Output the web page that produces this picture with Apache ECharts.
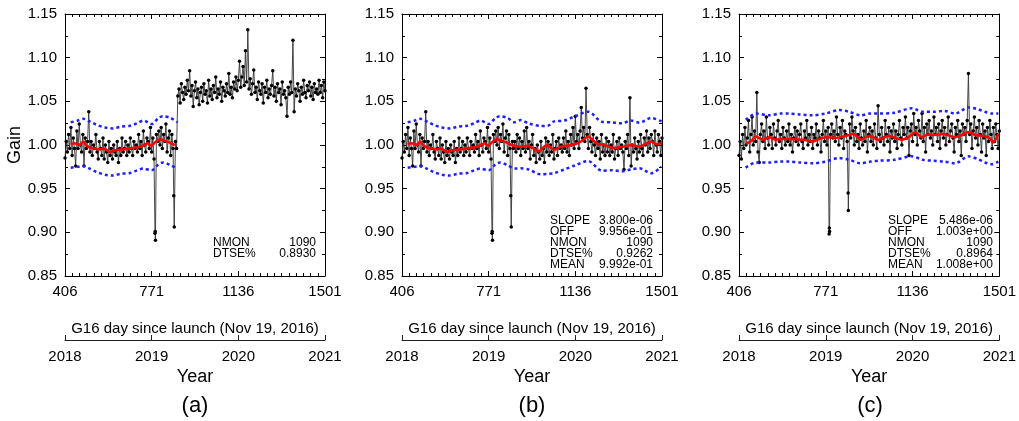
<!DOCTYPE html>
<html>
<head>
<meta charset="utf-8">
<script src="https://cdn.jsdelivr.net/npm/echarts@6/dist/echarts.min.js"></script>
<style>
  html, body { margin: 0; padding: 0; background: #fff; }
  #chart { width: 1019px; height: 421px; }
</style>
</head>
<body>
<div id="chart"></div>
<script>
// gain series on a 5-day grid starting at day 406
var DAY_START = 406;
var DAY_STEP = 5;
var dayTicks = [406, 771, 1136, 1501];
var panelNames = ['(a)', '(b)', '(c)'];

// days 406-876, identical in (a) and (b)
var gainEarly = [
  0.985, 1.004, 0.992, 1.012, 0.996, 1.020, 0.988, 1.008, 0.996, 0.976,
  1.016, 0.996, 1.024, 1.000, 0.992, 1.012, 0.976, 1.008, 0.996, 1.004,
  1.038, 0.992, 1.004, 0.988, 1.000, 0.996, 1.012, 0.992, 0.984, 1.004,
  0.996, 0.988, 1.008, 0.984, 1.000, 0.992, 0.980, 1.004, 0.988, 0.996,
  0.984, 1.000, 0.992, 0.988, 1.004, 0.980, 0.996, 0.988, 1.008, 0.992,
  0.996, 1.004, 0.988, 1.000, 0.992, 1.008, 0.996, 0.988, 1.004, 0.996,
  1.000, 0.992, 1.012, 0.996, 1.004, 0.988, 1.016, 1.000, 0.992, 1.008,
  1.004, 0.996, 1.020, 0.992, 1.008, 0.984, 0.901, 1.012, 1.004, 1.016,
  1.000, 1.020, 0.996, 1.012, 1.004, 1.024, 0.992, 1.008, 1.016, 0.988,
  1.012, 0.996, 0.906, 1.004, 0.996
];
// days 881-1501
var gainLateA = [
  1.056, 1.064, 1.048, 1.070, 1.060, 1.052, 1.066, 1.058, 1.074, 1.062,
  1.085, 1.056, 1.068, 1.044, 1.062, 1.072, 1.054, 1.064, 1.046, 1.060,
  1.066, 1.050, 1.070, 1.058, 1.062, 1.048, 1.074, 1.056, 1.064, 1.052,
  1.068, 1.060, 1.078, 1.054, 1.064, 1.058, 1.072, 1.050, 1.066, 1.062,
  1.056, 1.070, 1.060, 1.082, 1.058, 1.066, 1.054, 1.072, 1.064, 1.078,
  1.062, 1.074, 1.096, 1.066, 1.078, 1.090, 1.068, 1.108, 1.072, 1.132,
  1.064, 1.076, 1.058, 1.070, 1.086, 1.060, 1.066, 1.052, 1.072, 1.062,
  1.058, 1.070, 1.048, 1.066, 1.060, 1.074, 1.054, 1.064, 1.058, 1.068,
  1.085, 1.056, 1.066, 1.050, 1.070, 1.060, 1.064, 1.046, 1.072, 1.058,
  1.062, 1.054, 1.033, 1.066, 1.058, 1.072, 1.060, 1.120, 1.038, 1.064,
  1.056, 1.070, 1.062, 1.050, 1.066, 1.058, 1.074, 1.060, 1.054, 1.068,
  1.062, 1.072, 1.056, 1.066, 1.052, 1.070, 1.060, 1.064, 1.058, 1.074,
  1.060, 1.068, 1.054, 1.072, 1.062
];
var gainLateB = [
  1.004, 0.992, 1.012, 0.996, 1.008, 0.988, 1.004, 0.996, 1.016, 0.992,
  1.020, 0.996, 1.004, 0.984, 1.000, 1.012, 0.988, 0.996, 0.980, 1.000,
  0.992, 0.984, 1.004, 0.988, 0.996, 0.980, 1.008, 0.992, 1.004, 0.988,
  1.000, 0.992, 1.012, 0.984, 0.996, 1.004, 0.988, 1.008, 0.996, 1.000,
  0.992, 1.008, 0.996, 1.016, 0.992, 1.004, 0.988, 1.012, 1.000, 1.020,
  0.996, 1.033, 1.004, 1.012, 0.996, 1.016, 1.043, 1.008, 1.020, 1.004,
  1.065, 1.012, 0.996, 1.020, 1.004, 0.992, 1.012, 1.000, 0.988, 1.008,
  0.996, 1.004, 0.984, 1.012, 0.992, 1.000, 0.988, 1.008, 0.992, 1.004,
  0.988, 1.000, 0.992, 1.012, 0.984, 0.996, 1.004, 0.988, 1.008, 0.996,
  1.000, 0.992, 0.972, 1.004, 0.996, 1.012, 0.988, 1.054, 0.976, 1.000,
  0.992, 1.008, 0.996, 0.984, 1.004, 0.992, 1.012, 0.996, 0.988, 1.008,
  1.000, 1.016, 0.992, 1.008, 0.996, 1.012, 1.004, 0.988, 1.016, 1.000,
  0.992, 1.012, 1.004, 0.988, 1.008
];
// days 406-1501
var gainC = [
  0.988, 1.004, 0.984, 1.012, 0.996, 1.020, 1.000, 1.008, 1.028, 0.992,
  1.012, 1.032, 1.000, 1.016, 1.004, 1.060, 0.992, 0.980, 1.012, 1.024,
  1.004, 1.016, 0.996, 1.032, 1.008, 1.000, 1.020, 1.012, 0.996, 1.024,
  1.008, 1.000, 1.016, 1.028, 1.004, 1.012, 0.996, 1.020, 1.008, 1.000,
  1.016, 1.004, 1.024, 1.000, 1.012, 0.992, 1.008, 1.020, 1.004, 1.016,
  1.000, 1.012, 1.024, 1.004, 0.996, 1.016, 1.008, 1.028, 1.000, 1.012,
  1.004, 1.020, 0.996, 1.012, 1.008, 1.024, 1.000, 1.016, 1.008, 0.992,
  1.012, 1.028, 1.004, 1.016, 1.000, 1.020, 0.905, 1.012, 1.024, 1.008,
  1.016, 1.004, 1.032, 1.012, 1.000, 1.020, 1.008, 1.028, 0.996, 1.016,
  1.012, 1.004, 0.925, 1.024, 1.008, 1.032, 1.016, 1.000, 1.020, 1.004,
  1.012, 0.996, 1.024, 1.008, 1.000, 1.016, 1.004, 1.028, 0.992, 1.012,
  1.020, 1.004, 1.016, 1.000, 1.024, 1.008, 0.996, 1.045, 1.012, 1.004,
  1.020, 1.008, 1.000, 1.028, 1.012, 1.004, 1.020, 0.992, 1.016, 1.008,
  1.024, 1.004, 1.016, 0.996, 1.012, 1.028, 1.008, 1.000, 1.020, 1.012,
  1.032, 1.008, 1.020, 0.988, 1.016, 1.024, 1.004, 1.036, 1.012, 1.020,
  1.000, 1.028, 1.016, 1.008, 1.036, 1.004, 1.020, 0.992, 1.024, 1.012,
  1.028, 1.008, 1.016, 1.000, 1.032, 1.012, 1.020, 1.004, 1.024, 0.996,
  1.016, 1.028, 1.008, 1.020, 1.000, 1.012, 1.032, 1.004, 1.016, 1.024,
  1.008, 0.992, 1.020, 1.012, 1.028, 1.004, 1.016, 0.988, 1.024, 1.012,
  1.020, 1.004, 1.028, 1.082, 1.012, 1.024, 0.996, 1.016, 1.032, 1.008,
  1.020, 1.000, 1.028, 1.012, 0.992, 1.024, 1.008, 1.016, 0.988, 1.020,
  1.004, 1.028, 1.012, 0.996, 1.020, 1.004, 1.024, 1.012, 0.996, 1.016
];
// extra points of the two low excursions, off the 5-day grid
var dropsAB = [[785, 0.899], [787, 0.891], [864, 0.942]];
var dropsC = [[785, 0.898], [787, 0.901], [865, 0.945]];

// running mean (red) and the dotted envelope (blue)
var meanEarlyDays = [430, 445, 460, 470, 482, 495, 511, 530, 550, 570, 595, 620, 650, 680, 700, 722, 740, 755, 770, 785, 806, 825, 845, 869];
var meanEarly = [1.001, 1.002, 1.001, 1.000, 1.004, 1.000, 0.997, 0.996, 0.995, 0.996, 0.992, 0.994, 0.995, 0.996, 0.997, 0.998, 1.000, 1.002, 0.999, 1.003, 1.0065, 1.005, 1.003, 1.000];
var meanLateDaysB = [906, 934, 960, 983, 1000, 1018, 1046, 1075, 1103, 1131, 1160, 1190, 1225, 1260, 1295, 1335, 1373, 1406, 1430, 1456, 1477, 1499];
var meanLateB = [0.998, 0.999, 0.996, 0.9925, 0.997, 1.000, 0.9945, 0.998, 0.9995, 1.0005, 1.004, 1.0096, 1.002, 1.000, 0.9966, 0.998, 1.000, 0.998, 1.001, 1.004, 1.001, 1.002];
var meanDaysC = [434, 455, 478, 506, 534, 562, 590, 617, 650, 680, 715, 745, 771, 813, 850, 890, 918, 940, 960, 994, 1036, 1065, 1091, 1120, 1147, 1175, 1200, 1224, 1266, 1315, 1340, 1371, 1399, 1441, 1460, 1476, 1497];
var meanC = [1.0015, 1.004, 1.0096, 1.006, 1.0088, 1.006, 1.007, 1.007, 1.0065, 1.006, 1.004, 1.007, 1.009, 1.008, 1.010, 1.0126, 1.006, 1.009, 1.010, 1.006, 1.0107, 1.008, 1.006, 1.009, 1.0145, 1.009, 1.012, 1.0115, 1.0126, 1.009, 1.011, 1.015, 1.0115, 1.010, 1.008, 1.003, 1.0126];

var bandEarlyDays = [430, 460, 483, 510, 540, 575, 608, 640, 680, 710, 736, 771, 800, 819, 850, 880];
var bandEarlyHi = [1.026, 1.028, 1.030, 1.027, 1.023, 1.020, 1.019, 1.021, 1.022, 1.025, 1.028, 1.024, 1.031, 1.033, 1.031, 1.026];
var bandEarlyLo = [0.974, 0.975, 0.976, 0.973, 0.969, 0.966, 0.965, 0.967, 0.968, 0.971, 0.973, 0.971, 0.978, 0.980, 0.977, 0.973];
var bandLateDaysB = [906, 939, 990, 1020, 1046, 1090, 1131, 1190, 1248, 1290, 1333, 1370, 1406, 1456, 1499];
var bandLateHiB = [1.0286, 1.0248, 1.0218, 1.022, 1.027, 1.028, 1.0325, 1.0381, 1.0266, 1.026, 1.0248, 1.028, 1.0256, 1.031, 1.027];
var bandLateLoB = [0.9733, 0.972, 0.9664, 0.967, 0.9677, 0.972, 0.9763, 0.9817, 0.9706, 0.971, 0.970, 0.972, 0.9733, 0.9677, 0.9752];
var bandDaysC = [434, 478, 534, 580, 617, 660, 715, 770, 827, 870, 918, 960, 994, 1060, 1133, 1180, 1224, 1270, 1315, 1371, 1410, 1441, 1470, 1497];
var bandHiC = [1.029, 1.036, 1.034, 1.036, 1.036, 1.035, 1.034, 1.036, 1.040, 1.038, 1.034, 1.036, 1.036, 1.037, 1.042, 1.038, 1.038, 1.039, 1.036, 1.043, 1.041, 1.038, 1.036, 1.036];
var bandLoC = [0.974, 0.980, 0.980, 0.981, 0.981, 0.980, 0.979, 0.981, 0.985, 0.983, 0.979, 0.981, 0.982, 0.983, 0.987, 0.983, 0.982, 0.981, 0.979, 0.987, 0.984, 0.980, 0.978, 0.981];

var statsA = [['NMON', '1090'], ['DTSE%', '0.8930']];
var statsB = [['SLOPE', '3.800e-06'], ['OFF', '9.956e-01'], ['NMON', '1090'], ['DTSE%', '0.9262'], ['MEAN', '9.992e-01']];
var statsC = [['SLOPE', '5.486e-06'], ['OFF', '1.003e+00'], ['NMON', '1090'], ['DTSE%', '0.8964'], ['MEAN', '1.008e+00']];

function gridSeries(values, startIndex) {
  return values.map(function (v, i) {
    return [DAY_START + (startIndex + i) * DAY_STEP, v];
  });
}
function zip(days, values) {
  return days.map(function (d, i) { return [d, values[i]]; });
}
function byDay(a, b) { return a[0] - b[0]; }
function plain(v) { return String(Math.round(v)); }

var gainA = gridSeries(gainEarly, 0).concat(gridSeries(gainLateA, gainEarly.length), dropsAB).sort(byDay);
var gainB = gridSeries(gainEarly, 0).concat(gridSeries(gainLateB, gainEarly.length), dropsAB).sort(byDay);
var gainCPts = gridSeries(gainC, 0).concat(dropsC).sort(byDay);

var panels = [
  {left: 65, width: 260, gain: gainA, stats: statsA, statsLeft: 213, statsRight: 316, statsTop: 243,
   mean: zip(meanEarlyDays, meanEarly), hi: zip(bandEarlyDays, bandEarlyHi), lo: zip(bandEarlyDays, bandEarlyLo)},
  {left: 402, width: 260, gain: gainB, stats: statsB, statsLeft: 550, statsRight: 653, statsTop: 221,
   mean: zip(meanEarlyDays.concat(meanLateDaysB), meanEarly.concat(meanLateB)),
   hi: zip(bandEarlyDays.concat(bandLateDaysB), bandEarlyHi.concat(bandLateHiB)),
   lo: zip(bandEarlyDays.concat(bandLateDaysB), bandEarlyLo.concat(bandLateLoB))},
  {left: 739, width: 262, gain: gainCPts, stats: statsC, statsLeft: 888, statsRight: 993, statsTop: 221,
   mean: zip(meanDaysC, meanC), hi: zip(bandDaysC, bandHiC), lo: zip(bandDaysC, bandLoC)}
];

// monthly minor ticks on the day axis
var monthTicks = [];
for (var k = 0; k <= 36; k++) monthTicks.push(DAY_START + k * 365 / 12);

var FONT = '"Liberation Sans", Arial, Helvetica, sans-serif';
var BLACK = '#000';

var grids = [], xAxes = [], yAxes = [], series = [], graphics = [];

panels.forEach(function (p, pi) {
  var plotGrid = grids.length;
  grids.push({left: p.left, top: 14, width: p.width, height: 262});
  var yearGrid = grids.length;
  grids.push({left: p.left, top: 339, width: p.width, height: 1});

  var dayAxis = xAxes.length;
  var baseX = {type: 'value', gridIndex: plotGrid, min: 406, max: 1501, splitLine: {show: false}};
  xAxes.push(Object.assign({}, baseX, {
    position: 'bottom',
    axisLine: {lineStyle: {color: BLACK, width: 1}},
    axisTick: {inside: true, length: 5, customValues: dayTicks, lineStyle: {color: BLACK}},
    axisLabel: {customValues: dayTicks, color: BLACK, fontSize: 15, margin: 8, fontFamily: FONT, formatter: plain},
    name: 'G16 day since launch (Nov 19, 2016)', nameLocation: 'middle', nameGap: 45,
    nameTextStyle: {color: BLACK, fontSize: 15, fontFamily: FONT}
  }));
  xAxes.push(Object.assign({}, baseX, {
    position: 'bottom', axisLine: {show: false}, axisLabel: {show: false},
    axisTick: {inside: true, length: 3, customValues: monthTicks, lineStyle: {color: BLACK}}
  }));
  xAxes.push(Object.assign({}, baseX, {
    position: 'top', axisLine: {lineStyle: {color: BLACK, width: 1}}, axisLabel: {show: false},
    axisTick: {inside: true, length: 5, customValues: dayTicks, lineStyle: {color: BLACK}}
  }));
  xAxes.push(Object.assign({}, baseX, {
    position: 'top', axisLine: {show: false}, axisLabel: {show: false},
    axisTick: {inside: true, length: 3, customValues: monthTicks, lineStyle: {color: BLACK}}
  }));
  xAxes.push({
    type: 'value', gridIndex: yearGrid, position: 'bottom', min: 2018, max: 2021, interval: 1,
    splitLine: {show: false},
    axisLine: {lineStyle: {color: '#222', width: 1}},
    axisTick: {inside: true, length: 5, lineStyle: {color: '#222'}},
    axisLabel: {color: BLACK, fontSize: 15, margin: 9, fontFamily: FONT, formatter: plain},
    name: 'Year', nameLocation: 'middle', nameGap: 28,
    nameTextStyle: {color: BLACK, fontSize: 18, fontFamily: FONT}
  });

  var gainAxis = yAxes.length;
  var baseY = {
    type: 'value', gridIndex: plotGrid, min: 0.85, max: 1.15, interval: 0.05,
    splitLine: {show: false},
    axisLine: {lineStyle: {color: BLACK, width: 1}},
    axisTick: {inside: true, length: 5, lineStyle: {color: BLACK}},
    minorTick: {show: true, splitNumber: 2, length: 3, lineStyle: {color: BLACK}}
  };
  yAxes.push(Object.assign({}, baseY, {
    position: 'left',
    axisLabel: {color: BLACK, fontSize: 15, margin: 8, fontFamily: FONT,
      formatter: function (v) { return v.toFixed(2); }},
    name: pi === 0 ? 'Gain' : '', nameLocation: 'middle', nameGap: 39,
    nameTextStyle: {color: BLACK, fontSize: 18, fontFamily: FONT}
  }));
  yAxes.push(Object.assign({}, baseY, {position: 'right', axisLabel: {show: false}}));
  yAxes.push({type: 'value', gridIndex: yearGrid, show: false});

  series.push({
    type: 'line', xAxisIndex: dayAxis, yAxisIndex: gainAxis, data: p.gain,
    symbol: 'circle', symbolSize: 3.5, showSymbol: true,
    itemStyle: {color: '#000'}, lineStyle: {color: '#333', width: 0.9}, z: 2
  });
  series.push({
    type: 'line', xAxisIndex: dayAxis, yAxisIndex: gainAxis, data: p.hi,
    showSymbol: false, smooth: 0.3,
    lineStyle: {color: '#1f1fff', width: 2.5, type: [3, 3], cap: 'butt'}, z: 3
  });
  series.push({
    type: 'line', xAxisIndex: dayAxis, yAxisIndex: gainAxis, data: p.lo,
    showSymbol: false, smooth: 0.3,
    lineStyle: {color: '#1f1fff', width: 2.5, type: [3, 3], cap: 'butt'}, z: 3
  });
  series.push({
    type: 'line', xAxisIndex: dayAxis, yAxisIndex: gainAxis, data: p.mean,
    showSymbol: false, smooth: 0.2,
    lineStyle: {color: '#ff0000', width: 2.5}, z: 4
  });

  p.stats.forEach(function (row, ri) {
    var y = p.statsTop + ri * 11;
    graphics.push({type: 'text', z: 10, style: {text: row[0], x: p.statsLeft, y: y,
      textAlign: 'left', textVerticalAlign: 'middle', fill: BLACK, font: '12px ' + FONT}});
    graphics.push({type: 'text', z: 10, style: {text: row[1], x: p.statsRight, y: y,
      textAlign: 'right', textVerticalAlign: 'middle', fill: BLACK, font: '12px ' + FONT}});
  });
  graphics.push({type: 'text', style: {text: panelNames[pi], x: p.left + p.width / 2, y: 406,
    textAlign: 'center', textVerticalAlign: 'middle', fill: BLACK, font: '22px ' + FONT}});
});

var chart = echarts.init(document.getElementById('chart'), null, {renderer: 'canvas'});
chart.setOption({
  animation: false,
  backgroundColor: '#fff',
  textStyle: {fontFamily: FONT},
  grid: grids,
  xAxis: xAxes,
  yAxis: yAxes,
  series: series,
  graphic: graphics
});
</script>
</body>
</html>
